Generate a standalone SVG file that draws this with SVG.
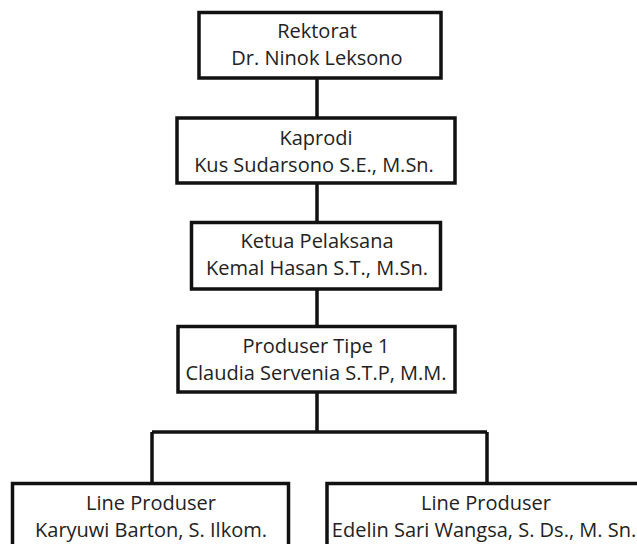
<svg xmlns="http://www.w3.org/2000/svg" width="637" height="544" viewBox="0 0 637 544">
<style>
.box{fill:#fff;stroke:#111;stroke-width:3.5}
.ln{fill:none;stroke:#111;stroke-width:3.5}
text{font-family:"Open Sans","Noto Sans",sans-serif;font-size:20px;fill:#222;text-anchor:middle}
</style>
<rect width="637" height="544" fill="#fff"/>
<g id="connectors">
<path class="ln" d="M317 78V118M317 183V222.5M317 289V326.5M317 392V432M152 432H487M152 432V483.5M487 432V483.5"/>
</g>
<g id="rektorat"><rect class="box" x="199" y="12.5" width="242" height="65.5"/><text x="317" y="38">Rektorat</text><text x="317" y="65">Dr. Ninok Leksono</text></g>
<g id="kaprodi"><rect class="box" x="177" y="118" width="278" height="65"/><text x="316" y="145">Kaprodi</text><text x="314" y="172">Kus Sudarsono S.E., M.Sn.</text></g>
<g id="ketua"><rect class="box" x="191.5" y="222.5" width="249" height="66.5"/><text x="317" y="248">Ketua Pelaksana</text><text x="317" y="275">Kemal Hasan S.T., M.Sn.</text></g>
<g id="produser"><rect class="box" x="178" y="326.5" width="277" height="65.5"/><text x="316" y="353">Produser Tipe 1</text><text x="316" y="380">Claudia Servenia S.T.P, M.M.</text></g>
<g id="line1"><rect class="box" x="12.5" y="483.5" width="276" height="80"/><text x="151" y="510">Line Produser</text><text x="151" y="537">Karyuwi Barton, S. Ilkom.</text></g>
<g id="line2"><rect class="box" x="327" y="483.5" width="330" height="80"/><text x="486" y="510">Line Produser</text><text x="484" y="537">Edelin Sari Wangsa, S. Ds., M. Sn.</text></g>
</svg>
